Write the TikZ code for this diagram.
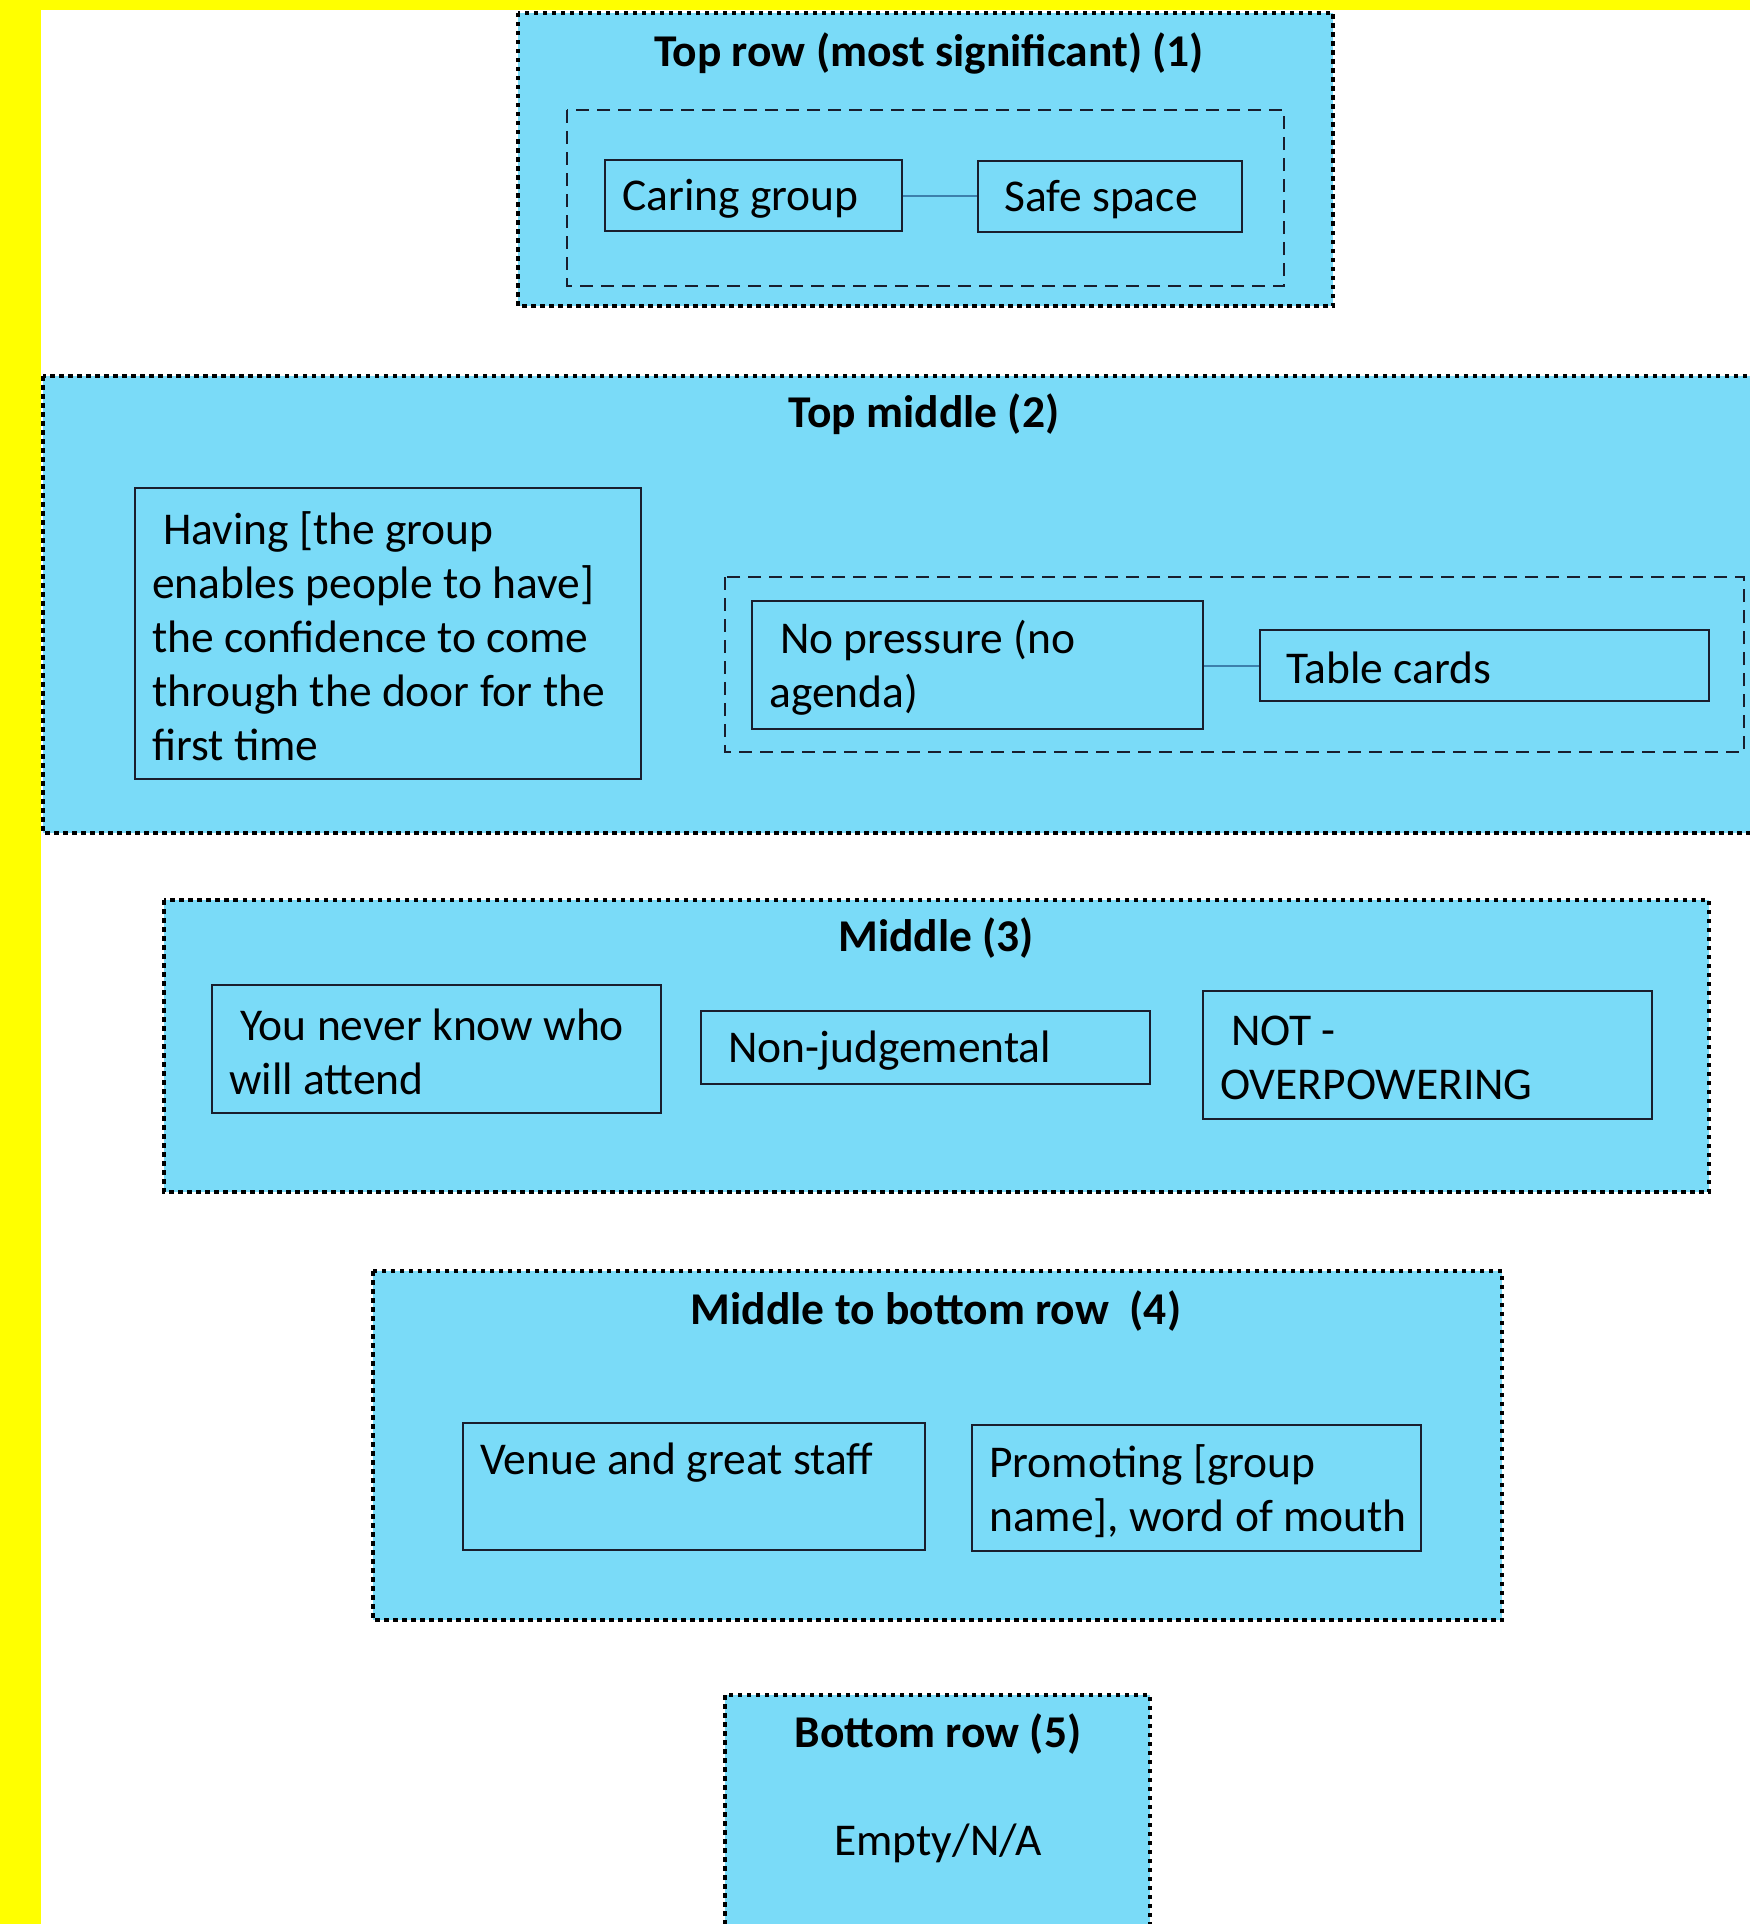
\documentclass[tikz,border=0pt]{standalone}
\usepackage{fontspec}
\setmainfont{Carlito}
\definecolor{bgyellow}{RGB}{255,255,0}
\definecolor{panelblue}{RGB}{122,219,248}
\definecolor{linkblue}{RGB}{60,128,172}
\definecolor{boxline}{RGB}{25,30,45}
\tikzset{
  panel/.style={draw=black, fill=panelblue, line width=3.5pt, dash pattern=on 4.5pt off 4.5pt},
  group/.style={draw=boxline, line width=2pt, dash pattern=on 13pt off 8pt},
  card/.style={draw=boxline, line width=2.2pt},
  txt/.style={inner sep=0pt, align=left, font=\fontsize{45.5}{54}\selectfont},
  ttl/.style={inner sep=0pt, font=\fontsize{45.5}{54}\selectfont\bfseries},
  conn/.style={draw=linkblue, line width=2pt}
}
\begin{document}
\begin{tikzpicture}[x=1pt,y=-1pt]
\useasboundingbox (0,0) rectangle (1750,1924);
\fill[bgyellow] (0,0) rectangle (1750,1924);
\fill[white] (41,10) rectangle (1750,1924);

% ---------- Panel 1 ----------
\draw[panel] (518,13) rectangle (1333,306);
\node[ttl] (t1) at (929,53) {Top row (most significant) (1)};
\draw[group] (567,110) rectangle (1284,286);
\node[card, minimum width=297pt, minimum height=71pt] (caring) at (753.5,195.5) {};
\node[txt, anchor=west] (caringT) at (622,199) {Caring group};
\node[card, minimum width=264pt, minimum height=71pt] (safe) at (1110,196.5) {};
\node[txt, anchor=west] (safeT) at (1004,200) {Safe space};
\draw[conn] (caring.east) -- (caring.east -| safe.west);

% ---------- Panel 2 ----------
\draw[panel] (43,376) rectangle (1770,833);
\node[ttl] (t2) at (924,414) {Top middle (2)};
\node[card, minimum width=506pt, minimum height=291pt] (having) at (388,633.5) {};
\node[txt, anchor=west] (havingT) at (152,636) {\hspace{11pt}Having [the group\\enables people to have]\\the confidence to come\\through the door for the\\first time};
\draw[group] (725,577) rectangle (1744,752);
\node[card, minimum width=451pt, minimum height=128pt] (nopress) at (977.5,665) {};
\node[txt, anchor=west] (nopressT) at (769,668) {\hspace{11pt}No pressure (no\\agenda)};
\node[card, minimum width=449pt, minimum height=71pt] (table) at (1484.5,665.5) {};
\node[txt, anchor=west] (tableT) at (1286,668) {Table cards};
\draw[conn] (table.west -| nopress.east) -- (table.west);

% ---------- Panel 3 ----------
\draw[panel] (164,900) rectangle (1709,1192);
\node[ttl] (t3) at (936,938) {Middle (3)};
\node[card, minimum width=449pt, minimum height=128pt] (never) at (436.5,1049) {};
\node[txt, anchor=west] (neverT) at (229,1052) {\hspace{11pt}You never know who\\will attend};
\node[card, minimum width=449pt, minimum height=73pt] (nonj) at (925.5,1047.5) {};
\node[txt, anchor=west] (nonjT) at (728,1051) {Non-judgemental};
\node[card, minimum width=449pt, minimum height=128pt] (notover) at (1427.5,1055) {};
\node[txt, anchor=west] (notoverT) at (1220,1058) {\hspace{11pt}NOT -\\OVERPOWERING};

% ---------- Panel 4 ----------
\draw[panel] (373,1271) rectangle (1502,1620);
\node[ttl] (t4) at (936,1311) {Middle to bottom row\ \ (4)};
\node[card, minimum width=462pt, minimum height=127pt] (venue) at (694,1486.5) {};
\node[txt, anchor=west] (venueT) at (480,1463) {Venue and great staff};
\node[card, minimum width=449pt, minimum height=126pt] (promo) at (1196.5,1488) {};
\node[txt, anchor=west] (promoT) at (989,1491) {Promoting [group\\name], word of mouth};

% ---------- Panel 5 ----------
\draw[panel] (725,1695) rectangle (1150,1940);
\node[ttl] (t5) at (938,1734) {Bottom row (5)};
\node[txt] (empty) at (938,1843) {Empty/N/A};
\end{tikzpicture}
\end{document}
